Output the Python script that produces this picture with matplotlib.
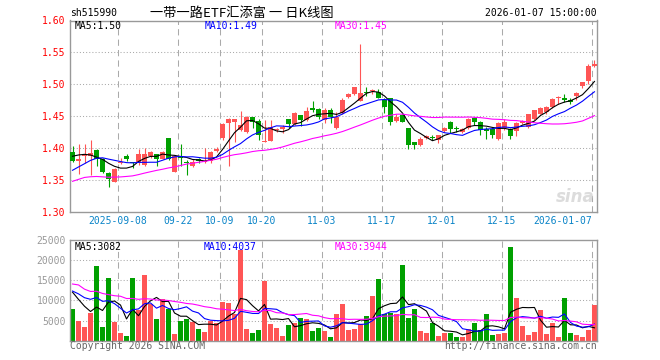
import numpy as np
import pandas as pd
import matplotlib
matplotlib.use("Agg")
import matplotlib.pyplot as plt
from matplotlib.transforms import blended_transform_factory

W, H = 660, 360

# daily candles 2025-08-27 .. 2026-01-07
opens = [1.393, 1.379, 1.387, 1.387, 1.397, 1.383, 1.360, 1.347, 1.376, 1.387,
         1.377, 1.376, 1.374, 1.387, 1.390, 1.383, 1.415, 1.363, 1.388, 1.378,
         1.371, 1.383, 1.378, 1.380, 1.395, 1.415, 1.439, 1.440, 1.428, 1.425,
         1.448, 1.442, 1.410, 1.411, 1.428, 1.430, 1.445, 1.437, 1.451, 1.444,
         1.462, 1.461, 1.444, 1.459, 1.432, 1.455, 1.480, 1.485, 1.474, 1.488,
         1.489, 1.488, 1.476, 1.478, 1.443, 1.452, 1.431, 1.409, 1.405, 1.416,
         1.417, 1.412, 1.427, 1.441, 1.431, 1.425, 1.431, 1.447, 1.441, 1.429,
         1.429, 1.414, 1.432, 1.430, 1.426, 1.439, 1.433, 1.445, 1.454, 1.456,
         1.464, 1.479, 1.479, 1.476, 1.481, 1.497, 1.505, 1.528]
highs = [1.403, 1.407, 1.407, 1.412, 1.398, 1.384, 1.362, 1.368, 1.384, 1.391,
         1.378, 1.398, 1.400, 1.396, 1.391, 1.395, 1.415, 1.388, 1.407, 1.381,
         1.383, 1.384, 1.400, 1.396, 1.402, 1.439, 1.447, 1.446, 1.458, 1.450,
         1.449, 1.445, 1.444, 1.444, 1.432, 1.436, 1.446, 1.457, 1.452, 1.465,
         1.474, 1.462, 1.462, 1.462, 1.457, 1.478, 1.487, 1.496, 1.563, 1.495,
         1.493, 1.492, 1.478, 1.479, 1.453, 1.453, 1.432, 1.410, 1.417, 1.420,
         1.420, 1.421, 1.433, 1.442, 1.435, 1.432, 1.447, 1.449, 1.442, 1.433,
         1.433, 1.440, 1.446, 1.431, 1.440, 1.444, 1.454, 1.460, 1.464, 1.466,
         1.478, 1.481, 1.485, 1.478, 1.488, 1.504, 1.532, 1.538]
lows = [1.378, 1.359, 1.377, 1.357, 1.371, 1.360, 1.338, 1.346, 1.375, 1.379,
        1.369, 1.374, 1.372, 1.384, 1.372, 1.382, 1.381, 1.362, 1.371, 1.357,
        1.370, 1.377, 1.376, 1.376, 1.393, 1.412, 1.371, 1.410, 1.426, 1.424,
        1.432, 1.413, 1.409, 1.411, 1.425, 1.423, 1.432, 1.436, 1.434, 1.443,
        1.457, 1.446, 1.439, 1.439, 1.429, 1.454, 1.479, 1.483, 1.473, 1.481,
        1.484, 1.478, 1.455, 1.436, 1.440, 1.440, 1.399, 1.398, 1.403, 1.414,
        1.412, 1.408, 1.425, 1.423, 1.425, 1.423, 1.429, 1.436, 1.420, 1.414,
        1.416, 1.413, 1.428, 1.414, 1.419, 1.438, 1.432, 1.444, 1.453, 1.454,
        1.463, 1.469, 1.472, 1.469, 1.476, 1.494, 1.501, 1.527]
closes = [1.380, 1.382, 1.391, 1.392, 1.383, 1.363, 1.351, 1.367, 1.378, 1.383,
          1.376, 1.390, 1.391, 1.394, 1.383, 1.394, 1.383, 1.388, 1.385, 1.376,
          1.378, 1.379, 1.380, 1.393, 1.399, 1.437, 1.446, 1.445, 1.436, 1.449,
          1.440, 1.420, 1.411, 1.433, 1.430, 1.433, 1.437, 1.455, 1.444, 1.458,
          1.459, 1.448, 1.459, 1.448, 1.449, 1.476, 1.484, 1.495, 1.487, 1.487,
          1.490, 1.479, 1.465, 1.441, 1.448, 1.441, 1.405, 1.405, 1.414, 1.418,
          1.415, 1.420, 1.432, 1.429, 1.430, 1.430, 1.446, 1.441, 1.428, 1.426,
          1.420, 1.439, 1.441, 1.418, 1.439, 1.442, 1.453, 1.459, 1.462, 1.465,
          1.477, 1.480, 1.476, 1.472, 1.487, 1.503, 1.529, 1.531]
volumes = [7750, 5000, 3500, 7000, 18500, 3500, 15500, 4750, 2000, 1250,
           15500, 7500, 16250, 9000, 5500, 10250, 7900, 1750, 5000, 5500,
           4750, 3000, 2250, 5000, 4500, 9500, 9250, 6750, 22500, 3000,
           2000, 2750, 14750, 4250, 3250, 1250, 4000, 4500, 5750, 5500,
           2500, 3250, 2500, 1000, 6750, 9000, 2750, 3000, 4250, 6250,
           11000, 15250, 6650, 6900, 6750, 18750, 5750, 7750, 2500, 2000,
           4500, 1250, 2000, 2000, 1000, 1000, 3000, 4500, 2750, 6750,
           1500, 1750, 2000, 23250, 10500, 3750, 1500, 2250, 7500, 1750,
           4500, 1000, 10500, 2000, 1500, 1000, 2750, 8750]

# 29 sessions before the first candle, only used to seed the moving averages
pre_close = [1.29, 1.30, 1.36, 1.37, 1.38, 1.37, 1.36, 1.37, 1.36, 1.35,
             1.33, 1.32, 1.33, 1.32, 1.34, 1.32, 1.34, 1.32, 1.31, 1.34,
             1.33, 1.34, 1.34, 1.35, 1.355, 1.372, 1.386, 1.397, 1.40]
pre_volume = [12000, 35000, 24000, 17000, 20000, 24000, 13000, 6000, 18000, 15000,
              14000, 12000, 11000, 13000, 10000, 12000, 9000, 11000, 14000, 9000,
              12000, 13000, 11000, 14000, 13000, 14000, 12000, 13500, 13000]

tick_idx = [8, 18, 25, 32, 42, 52, 62, 72, 87]
tick_labels = ["2025-09-08", "09-22", "10-09", "10-20", "11-03",
               "11-17", "12-01", "12-15", "2026-01-07"]
price_ticks = [1.30, 1.35, 1.40, 1.45, 1.50, 1.55, 1.60]
vol_ticks = [5000, 10000, 15000, 20000, 25000]

RED = "#ff5555"
GREEN = "#00a000"
GRID = "#aaaaaa"
MONO = "DejaVu Sans Mono"
CJK = ["Noto Sans CJK SC", "DejaVu Sans"]

n = len(closes)
x = np.arange(n)
o = np.array(opens)
c = np.array(closes)
colors = np.where(c >= o, RED, GREEN)

# moving averages
cs = pd.Series(pre_close + closes)
vs = pd.Series(pre_volume + volumes)
ma = {k: cs.rolling(k).mean().iloc[len(pre_close):].values for k in (5, 10, 30)}
vma = {k: vs.rolling(k).mean().iloc[len(pre_volume):].values for k in (5, 10, 30)}
ma_colors = {5: "black", 10: "blue", 30: "magenta"}

fig = plt.figure(figsize=(W / 100, H / 100), dpi=100)
fig.patch.set_facecolor("white")


def px_box(l, t, r, b):
    return [l / W, 1 - b / H, (r - l) / W, (b - t) / H]


ax = fig.add_axes(px_box(70, 20.5, 597, 211.7))
ax2 = fig.add_axes(px_box(70, 240, 597, 340.7))

for a in (ax, ax2):
    a.set_xlim(-0.42, n - 0.58)
    a.set_xticks([])
    for s in a.spines.values():
        s.set_color("#999999")
        s.set_linewidth(1.0)
    for i in tick_idx:
        a.axvline(i - 0.42, color=GRID, lw=0.75, ls=(0, (6, 4)), zorder=0)
    a.tick_params(axis="y", length=0, pad=3)

# price panel
ax.set_ylim(1.30, 1.60)
for p in price_ticks[1:-1]:
    ax.axhline(p, color=GRID, lw=0.75, ls=(0, (1, 2)), zorder=0)
ax.set_yticks(price_ticks)
ax.set_yticklabels([f"{p:.2f}" for p in price_ticks], color="red",
                   fontfamily=MONO, fontsize=7)

ax.vlines(x, lows, highs, colors=colors, lw=0.8, zorder=2)
body_lo = np.minimum(o, c)
body_h = np.maximum(np.abs(c - o), 0.0012)
ax.bar(x, body_h, bottom=body_lo, width=0.8, color=colors, lw=0, zorder=3)
for k in (5, 10, 30):
    ax.plot(x, ma[k], color=ma_colors[k], lw=0.8, zorder=4)

ax.text(0.995, 0.03, "sina", transform=ax.transAxes, ha="right", va="bottom",
        fontsize=12, fontstyle="italic", fontweight="bold", color="#dcdcdc", zorder=1)

tr = blended_transform_factory(ax.transData, fig.transFigure)
for i, lab in zip(tick_idx, tick_labels):
    ha = "right" if i == tick_idx[-1] else "center"
    ax.text(i - 0.42, 1 - 221.5 / H, lab, transform=tr, ha=ha, va="center",
            color="#0a84c8", fontfamily=MONO, fontsize=7)

# volume panel
ax2.set_ylim(0, 25000)
for v in vol_ticks[:-1]:
    ax2.axhline(v, color=GRID, lw=0.75, ls=(0, (1, 2)), zorder=0)
ax2.set_yticks(vol_ticks)
ax2.set_yticklabels([str(v) for v in vol_ticks], color="#999999",
                    fontfamily=MONO, fontsize=7)
ax2.bar(x, volumes, width=0.8, color=colors, lw=0, zorder=2)
for k in (5, 10, 30):
    ax2.plot(x, vma[k], color=ma_colors[k], lw=0.8, zorder=3)


def ftext(px, py, s, **kw):
    kw.setdefault("fontfamily", MONO)
    kw.setdefault("fontsize", 7)
    kw.setdefault("va", "center")
    fig.text(px / W, 1 - py / H, s, **kw)


# header
ftext(70, 13, "sh515990", color="black")
ftext(150, 13, "一带一路ETF汇添富 一 日K线图", color="black", fontfamily=CJK, fontsize=9.5)
ftext(597, 13, "2026-01-07 15:00:00", color="black", ha="right")

# MA legends
ftext(75, 26, "MA5:1.50", color="black")
ftext(205, 26, "MA10:1.49", color="blue")
ftext(335, 26, "MA30:1.45", color="magenta")
ftext(75, 246.5, "MA5:3082", color="black")
ftext(204, 246.5, "MA10:4037", color="blue")
ftext(335, 246.5, "MA30:3944", color="magenta")

# footer
ftext(70, 346, "Copyright 2026 SINA.COM", color="#666666")
ftext(597, 346, "http://finance.sina.com.cn", color="#666666", ha="right")

fig.savefig("out.png", dpi=100, facecolor="white")
